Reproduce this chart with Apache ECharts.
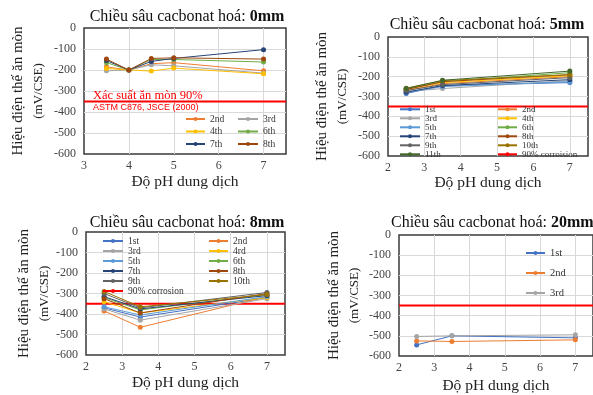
<!DOCTYPE html>
<html>
<head>
<meta charset="utf-8">
<script src="https://cdn.jsdelivr.net/npm/echarts@6/dist/echarts.min.js"></script>
<style>
  html, body { margin: 0; padding: 0; background: #fff; }
  #chart { width: 593px; height: 395px; }
</style>
</head>
<body>
<div id="chart"></div>
<script>
// pH values per panel
const ph0 = [3.5, 4, 4.5, 5, 7];
const phRest = [2.5, 3.5, 7];
const threshold = -350;
const yTicks = [0, -100, -200, -300, -400, -500, -600];

// 0mm
const names0 = ['2nd', '3rd', '4th', '6th', '7th', '8th'];
const vals0 = [
    [-185, -200, -170, -165, -204],
    [-204, -200, -175, -180, -215],
    [-193, -200, -205, -191, -218],
    [-165, -200, -150, -150, -162],
    [-155, -200, -159, -145, -103],
    [-148, -200, -145, -142, -148]
];

// 5mm
const names5 = ['1st', '2nd', '3rd', '4th', '5th', '6th', '7th', '8th', '9th', '10th', '11th'];
const vals5 = [
    [-285, -245, -230],
    [-270, -235, -200],
    [-275, -260, -220],
    [-265, -230, -195],
    [-280, -250, -225],
    [-262, -225, -180],
    [-278, -245, -215],
    [-265, -225, -190],
    [-270, -240, -205],
    [-258, -220, -190],
    [-260, -218, -172]
];

// 8mm
const names8 = ['1st', '2nd', '3rd', '4th', '5th', '6th', '7th', '8th', '9th', '10th'];
const vals8 = [
    [-370, -415, -320],
    [-385, -465, -315],
    [-375, -430, -325],
    [-340, -395, -320],
    [-365, -405, -315],
    [-320, -380, -305],
    [-315, -375, -310],
    [-325, -395, -300],
    [-300, -370, -295],
    [-290, -365, -305]
];

// 20mm
const names20 = ['1st', '2nd', '3rd'];
const vals20 = [
    [-545, -500, -510],
    [-525, -528, -520],
    [-503, -500, -495]
];

const colors = {
    '1st': '#4472C4', '2nd': '#ED7D31', '3rd': '#A5A5A5', '4th': '#FFC000',
    '5th': '#5B9BD5', '6th': '#70AD47', '7th': '#264478', '8th': '#9E480E',
    '9th': '#636363', '10th': '#997300', '11th': '#43682B'
};

const serif = 'Liberation Serif';

const panels = [
    { left: 84, top: 28, width: 202, height: 126, xmin: 3, gap: 36, nameGap: 20 },
    { left: 388, top: 37, width: 200, height: 119, xmin: 2, gap: 36, nameGap: 19 },
    { left: 86, top: 232, width: 199, height: 123, xmin: 2, gap: 32, nameGap: 20 },
    { left: 399, top: 235, width: 195, height: 123, xmin: 2, gap: 35, nameGap: 22 }
];

const grid = [], xAxis = [], yAxis = [];
panels.forEach(function (p) {
    grid.push({
        left: p.left, top: p.top, width: p.width, height: p.height,
        show: true, borderColor: '#3a3a3a', borderWidth: 1.5, backgroundColor: '#fff'
    });
    xAxis.push({
        type: 'value', gridIndex: grid.length - 1, min: p.xmin, max: 7.5, interval: 1,
        name: 'Độ pH dung dịch', nameLocation: 'middle', nameGap: p.nameGap,
        nameTextStyle: { fontFamily: serif, fontSize: 15.5, color: '#222' },
        axisLine: { show: false }, axisTick: { show: false },
        axisLabel: { fontFamily: serif, fontSize: 12, color: '#444', margin: 6, showMaxLabel: false },
        splitLine: { lineStyle: { color: '#D9D9D9', width: 1 }, showMinLine: false, showMaxLine: false }
    });
    yAxis.push({
        type: 'value', gridIndex: grid.length - 1, min: yTicks[yTicks.length - 1], max: yTicks[0], interval: 100,
        name: '{a|Hiệu điện thế ăn mòn}\n{b|(mV/CSE)}', nameLocation: 'middle', nameGap: p.gap, nameRotate: 90,
        nameTextStyle: {
            rich: {
                a: { fontFamily: serif, fontSize: 15, color: '#222', lineHeight: 21 },
                b: { fontFamily: serif, fontSize: 13, color: '#222', lineHeight: 19 }
            }
        },
        axisLine: { show: false }, axisTick: { show: false },
        axisLabel: { fontFamily: serif, fontSize: 12, color: '#444', margin: 8 },
        splitLine: { lineStyle: { color: '#D9D9D9', width: 1 }, showMinLine: false, showMaxLine: false }
    });
});

const series = [];
function addPanel(idx, names, vals, xs, redName) {
    names.forEach(function (n, i) {
        series.push({
            name: n, type: 'line', xAxisIndex: idx, yAxisIndex: idx,
            data: xs.map(function (x, j) { return [x, vals[i][j]]; }),
            symbol: 'circle', symbolSize: 5,
            color: colors[n],
            lineStyle: { width: 1, color: colors[n] },
            itemStyle: { color: colors[n] }
        });
    });
    series.push({
        name: redName, type: 'line', xAxisIndex: idx, yAxisIndex: idx,
        data: [[panels[idx].xmin, threshold], [7.5, threshold]],
        symbol: 'none', color: '#FF0000',
        lineStyle: { width: 2, color: '#FF0000' }, z: 1
    });
}
addPanel(0, names0, vals0, ph0, 'ASTM');
addPanel(1, names5, vals5, phRest, '90% corroision');
addPanel(2, names8, vals8, phRest, '90% corrosion');
addPanel(3, names20, vals20, phRest, 'threshold20');

// the 8mm panel labels its 4th series "4rd"
series.push({
    name: '4rd', type: 'line', xAxisIndex: 2, yAxisIndex: 2, data: [],
    symbol: 'circle', symbolSize: 5, color: colors['4th'],
    lineStyle: { width: 1, color: colors['4th'] }, itemStyle: { color: colors['4th'] }
});

function legendCol(data, left, top, itemWidth, fontSize, lineHeight, gap) {
    return {
        data: data, orient: 'vertical', left: left, top: top, padding: 0,
        itemWidth: itemWidth, itemHeight: 5, itemGap: gap,
        selectedMode: false,
        textStyle: { fontFamily: serif, fontSize: fontSize, color: '#333', lineHeight: lineHeight }
    };
}

const legend = [
    legendCol(['2nd', '4th', '7th'], 185, 114, 19, 9.5, 10, 2.5),
    legendCol(['3rd', '6th', '8th'], 237, 114, 20, 9.5, 10, 2.5),
    legendCol(['1st', '3rd', '5th', '7th', '9th', '11th'], 399, 104.8, 20, 9, 8.4, 0),
    legendCol(['2nd', '4th', '6th', '8th', '10th', '90% corroision'], 497, 104.8, 19, 9, 8.4, 0),
    legendCol(['1st', '3rd', '5th', '7th', '9th', '90% corrosion'], 102, 236, 20, 9.5, 9.7, 0),
    legendCol(['2nd', '4rd', '6th', '8th', '10th'], 208, 236, 19, 9.5, 9.7, 0),
    legendCol(['1st', '2nd', '3rd'], 525, 247, 19, 10.5, 12, 8)
];

function titleText(x, y, depth, align) {
    return {
        type: 'text', x: x, y: y,
        style: {
            text: '{n|Chiều sâu cacbonat hoá: }{b|' + depth + '}',
            rich: {
                n: { fontFamily: serif, fontSize: 16, fill: '#111' },
                b: { fontFamily: serif, fontSize: 16, fontWeight: 'bold', fill: '#111' }
            },
            align: align, textAlign: align, verticalAlign: 'middle', textVerticalAlign: 'middle'
        },
        z: 100
    };
}

const graphic = [
    titleText(187, 17, '0mm', 'center'),
    titleText(487, 25, '5mm', 'center'),
    titleText(187, 223, '8mm', 'center'),
    titleText(391, 223, '20mm', 'left'),
    {
        type: 'text', x: 93, y: 96, z: 100,
        style: {
            text: 'Xác suất ăn mòn 90%', fill: '#FF0000',
            font: '12.5px "Liberation Serif"', verticalAlign: 'middle', textVerticalAlign: 'middle'
        }
    },
    {
        type: 'text', x: 93, y: 107.5, z: 100,
        style: {
            text: 'ASTM C876, JSCE (2000)', fill: '#FF0000',
            font: '9px "Liberation Sans"', verticalAlign: 'middle', textVerticalAlign: 'middle'
        }
    }
];

const chart = echarts.init(document.getElementById('chart'));
chart.setOption({
    animation: false,
    backgroundColor: '#fff',
    grid: grid,
    xAxis: xAxis,
    yAxis: yAxis,
    legend: legend,
    series: series,
    graphic: graphic
});
</script>
</body>
</html>
